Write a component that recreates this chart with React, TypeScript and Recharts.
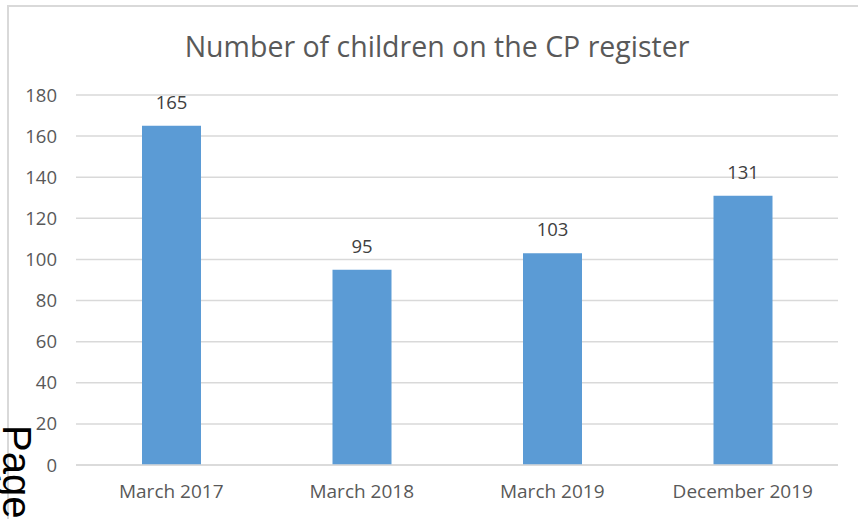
import React from "react";
import { BarChart, Bar, XAxis, YAxis, CartesianGrid, LabelList } from "recharts";

const categories = ["March 2017", "March 2018", "March 2019", "December 2019"];
const childrenCounts = [165, 95, 103, 131];
const yTicks = [0, 20, 40, 60, 80, 100, 120, 140, 160, 180];
const chartTitle = "Number of children on the CP register";

const data = categories.map((c, i) => ({ name: c, value: childrenCounts[i] }));

const FONT = "'Open Sans', Lato, sans-serif";

export default function App() {
  return (
    <div style={{ position: "fixed", left: 0, top: 0, width: 858, height: 519, overflow: "hidden", background: "#fff" }}>
      <div
        style={{
          position: "absolute",
          left: 7,
          top: 5,
          width: 950,
          height: 650,
          border: "2px solid #d9d9d9",
          boxSizing: "border-box",
        }}
      />
      <div
        style={{
          position: "absolute",
          left: 0,
          width: 874,
          top: 28,
          textAlign: "center",
          fontFamily: FONT,
          fontSize: 28.5,
          color: "#595959",
          lineHeight: "36px",
        }}
      >
        {chartTitle}
      </div>
      <div style={{ position: "absolute", left: 0, top: 0 }}>
        <BarChart width={858} height={519} data={data} margin={{ top: 95, right: 20, bottom: 0, left: 0 }}>
          <CartesianGrid vertical={false} stroke="#d9d9d9" strokeWidth={1.5} />
          <XAxis
            dataKey="name"
            axisLine={{ stroke: "#d9d9d9", strokeWidth: 1.5 }}
            tickLine={false}
            tickSize={0}
            tickMargin={20}
            height={54}
            tick={{ fill: "#595959", fontSize: 19, fontFamily: FONT }}
            interval={0}
          />
          <YAxis
            domain={[0, 180]}
            ticks={yTicks}
            width={76}
            axisLine={false}
            tickLine={false}
            tickSize={0}
            tickMargin={19}
            tick={{ fill: "#595959", fontSize: 18.5, fontFamily: FONT }}
          />
          <Bar dataKey="value" fill="#5b9bd5" barSize={59} isAnimationActive={false}>
            <LabelList dataKey="value" position="top" offset={17} fill="#404040" fontSize={18.5} fontFamily={FONT} />
          </Bar>
        </BarChart>
      </div>
      <div
        style={{
          position: "absolute",
          left: 37,
          top: 425,
          transformOrigin: "0 0",
          transform: "rotate(90deg)",
          fontFamily: "'Liberation Sans', Arial, sans-serif",
          fontSize: 40,
          lineHeight: 1,
          color: "#000",
          whiteSpace: "nowrap",
        }}
      >
        Page
      </div>
    </div>
  );
}
